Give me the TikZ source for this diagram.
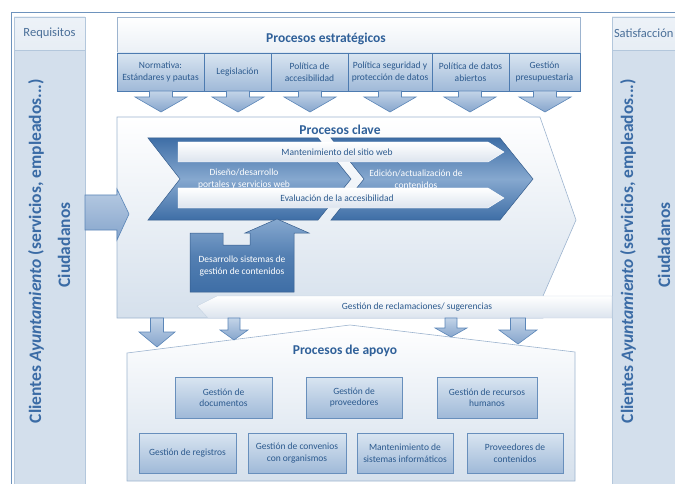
\documentclass[tikz,border=0pt]{standalone}
\usepackage{fontspec}
\setmainfont{Carlito}
\usetikzlibrary{shadows}

\definecolor{frameline}{HTML}{6E93BD}
\definecolor{ink}{HTML}{2C5A8E}
\definecolor{headink}{HTML}{4A6F99}
\definecolor{titleink}{HTML}{2F6099}
\definecolor{vink}{HTML}{3A6BA5}
\definecolor{colfill}{HTML}{D3DFEC}
\definecolor{colheadfill}{HTML}{EDF2F8}
\definecolor{colline}{HTML}{B3C7DC}
\definecolor{paleline}{HTML}{9DB4CF}
\definecolor{subtop}{HTML}{D9E5F1}
\definecolor{subbot}{HTML}{9FB9D8}
\definecolor{subline}{HTML}{4D7BB0}
\definecolor{chevdark}{HTML}{3E6EA6}
\definecolor{chevlight}{HTML}{86A8CF}
\definecolor{arrtop}{HTML}{C3D4E8}
\definecolor{arrbot}{HTML}{86A5CC}
\definecolor{arrline}{HTML}{5B86B8}
\definecolor{regiontop}{HTML}{FFFFFF}
\definecolor{regionbot}{HTML}{D5E0EC}
\definecolor{bandbot}{HTML}{DCE4EE}

% block arrow pointing down: centre x, top y, shaft length, head length,
% shaft half-width, head half-width
\newcommand\DownArrow[6]{%
  \path[blockarrow] (#1-#5,#2) -- (#1+#5,#2) -- (#1+#5,#2+#3) -- (#1+#6,#2+#3)
    -- (#1,#2+#3+#4) -- (#1-#6,#2+#3) -- (#1-#5,#2+#3) -- cycle;}

\begin{document}
\begin{tikzpicture}[x=1pt,y=-1pt,
  every node/.style={inner sep=0pt, outer sep=0pt},
  smalltxt/.style={font=\fontsize{9.5}{11.5}\selectfont, text=ink, align=center},
  whitetxt/.style={font=\fontsize{9.5}{12}\selectfont, text=white, align=center},
  titletxt/.style={font=\fontsize{13.5}{15}\selectfont\bfseries, text=titleink},
  vtext/.style={font=\fontsize{17.5}{19}\selectfont\bfseries, text=vink, rotate=90},
  headtxt/.style={font=\fontsize{12.5}{14}\selectfont, text=headink},
  colbody/.style={draw=colline, fill=colfill, anchor=north west},
  colhead/.style={draw=colline, top color=colheadfill, bottom color=colfill!55!white,
    anchor=north west, headtxt},
  subbox/.style={draw=subline, line width=0.9pt, top color=subtop, bottom color=subbot,
    anchor=north west, smalltxt},
  apoyobox/.style={draw=subline!85!white, line width=0.7pt, top color=subtop, bottom color=subbot,
    smalltxt, drop shadow={opacity=0.35, shadow xshift=1.2pt, shadow yshift=-1.2pt}},
  blockarrow/.style={draw=arrline, line width=0.6pt, top color=arrtop, bottom color=arrbot},
  region/.style={draw=paleline, line width=0.6pt, top color=regiontop, bottom color=regionbot},
  chevron/.style={draw=chevdark!85!black, line width=0.5pt, top color=chevdark,
    bottom color=chevdark, middle color=chevlight},
  whiteband/.style={draw=white, line width=0.4pt, top color=white, bottom color=bandbot},
]
\useasboundingbox (0,0) rectangle (675,484);
\clip (0,0) rectangle (675,484);

% outer frame
\draw[frameline, line width=0.8pt] (11,490) -- (11,12) -- (680,12);

% ---------- left column ----------
\node[colbody, minimum width=71pt, minimum height=445pt] (lcol) at (14,50) {};
\node[colhead, minimum width=71pt, minimum height=33pt] (lhead) at (14,17) {Requisitos};
\node[vtext] (lclients) at (36,251) {Clientes \textit{Ayuntamiento} (servicios, empleados...)};
\node[vtext] (lcitizens) at (64,245) {Ciudadanos};

% ---------- right column ----------
\node[colbody, minimum width=70pt, minimum height=445pt] (rcol) at (612,50) {};
\node[colhead, minimum width=70pt, minimum height=33pt] (rhead) at (612,17) {};
\node[headtxt, anchor=west] (rheadtxt) at (614,33.5) {Satisfacción};
\node[vtext] (rclients) at (628,251) {Clientes \textit{Ayuntamiento} (servicios, empleados...)};
\node[vtext] (rcitizens) at (664,245) {Ciudadanos};

% ---------- strategic processes ----------
\node[draw=paleline, line width=0.6pt, top color=white, bottom color=regionbot,
  anchor=north west, minimum width=463pt, minimum height=74pt] (estr) at (117,17) {};
\node[titletxt] (estrtitle) at (326,39) {Procesos estratégicos};
\node[subbox, minimum width=87pt, minimum height=38pt] (norm) at (117,53) {Normativa:\\Estándares y pautas};
\node[subbox, minimum width=67pt, minimum height=38pt] (legis) at (204,53) {Legislación};
\node[subbox, minimum width=77pt, minimum height=38pt] (polacc) at (271,53) {Política de\\accesibilidad};
\node[subbox, minimum width=84pt, minimum height=38pt] (polseg) at (348,53) {Política seguridad y\\protección de datos};
\node[subbox, minimum width=77pt, minimum height=38pt] (poldat) at (432,53) {Política de datos\\abiertos};
\node[subbox, minimum width=71pt, minimum height=38pt] (presup) at (509,53) {Gestión\\presupuestaria};

\DownArrow{161}{91}{6}{15}{11.5}{26}
\DownArrow{238}{91}{6}{15}{11.5}{26}
\DownArrow{310}{91}{6}{15}{11.5}{26}
\DownArrow{390}{91}{6}{15}{11.5}{26}
\DownArrow{470}{91}{6}{15}{11.5}{26}
\DownArrow{545}{91}{6}{15}{11.5}{26}

% ---------- key processes ----------
\path[region] (117,117) -- (540,117) -- (576,220) -- (543,296) -- (543,318) -- (117,318) -- cycle;
\node[titletxt] (clavetitle) at (340,130) {Procesos clave};

\path[chevron] (148,138) -- (318,138) -- (351,179) -- (318,220) -- (148,220) -- (180,179) -- cycle;
\path[chevron] (331,138) -- (500,138) -- (533,179) -- (500,220) -- (331,220) -- (364,179) -- cycle;

\path[whiteband] (178,142) -- (488,142) -- (504,152) -- (488,162) -- (178,162) -- cycle;
\path[whiteband] (178,188) -- (488,188) -- (504,198) -- (488,208) -- (178,208) -- cycle;
\node[smalltxt] (mant) at (337,152) {Mantenimiento del sitio web};
\node[smalltxt] (evalacc) at (337,198.5) {Evaluación de la accesibilidad};
\node[whitetxt] (disenyo) at (244,179) {Diseño/desarrollo\\portales y servicios web};
\node[whitetxt] (edicion) at (416,179) {Edición/actualización de\\contenidos};

% content management box with its arrow up into the chevron
\path[chevron, top color=chevlight, bottom color=chevdark, middle color=chevdark!70!chevlight]
  (190,233) -- (223,233) -- (223,245) -- (250,245) -- (250,233) -- (245,233) -- (277,219)
  -- (309,233) -- (294,233) -- (294,292) -- (190,292) -- cycle;
\node[whitetxt] (cms) at (242,266) {Desarrollo sistemas de\\gestión de contenidos};

% incoming arrow from the requirements column
\path[blockarrow, top color=arrtop!80!arrbot, bottom color=arrbot]
  (85,195) -- (117,195) -- (117,189) -- (129,214) -- (117,240) -- (117,230) -- (85,230) -- cycle;

% complaints band
\path[whiteband, draw=paleline!60!white] (197,306) -- (217,296) -- (612,296) -- (612,318) -- (208,318) -- cycle;
\node[smalltxt] (reclam) at (417,307) {Gestión de reclamaciones/ sugerencias};

% ---------- support processes ----------
\path[region] (127,353) -- (350,325) -- (575,352) -- (575,481) -- (127,481) -- cycle;
\node[titletxt] (apoyotitle) at (345,351) {Procesos de apoyo};

\DownArrow{157}{318}{14}{15}{6.5}{18}
\DownArrow{234}{318}{12}{10}{6}{14}
\DownArrow{451}{318}{10}{9}{6}{16}
\DownArrow{518}{318}{12}{14}{7.5}{19}

\node[apoyobox, minimum width=97pt, minimum height=41pt] (docs) at (223.5,397.5) {Gestión de\\documentos};
\node[apoyobox, minimum width=96pt, minimum height=41pt] (provs) at (354,397.5) {Gestión de\\proveedores};
\node[apoyobox, minimum width=100pt, minimum height=41pt] (rrhh) at (487,397.5) {Gestión de recursos\\humanos};
\node[apoyobox, minimum width=97pt, minimum height=40pt] (regs) at (187.5,453) {Gestión de registros};
\node[apoyobox, minimum width=98pt, minimum height=40pt] (conv) at (297,453) {Gestión de convenios\\con organismos};
\node[apoyobox, minimum width=96pt, minimum height=40pt] (mantsis) at (405,453) {Mantenimiento de\\sistemas informáticos};
\node[apoyobox, minimum width=96pt, minimum height=40pt] (provcont) at (515,453) {Proveedores de\\contenidos};
\end{tikzpicture}
\end{document}
